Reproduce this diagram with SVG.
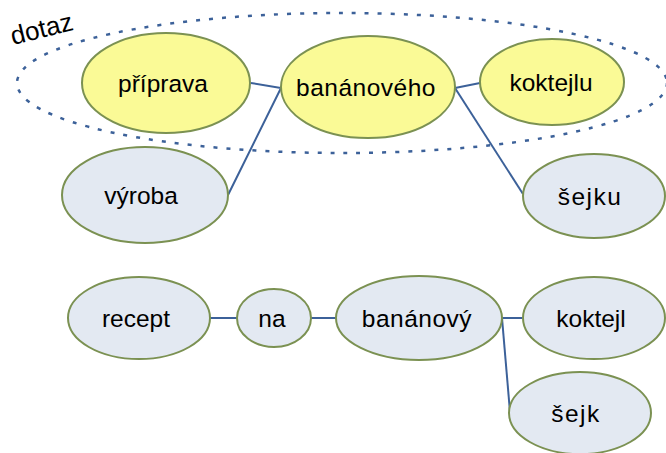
<svg xmlns="http://www.w3.org/2000/svg" width="666" height="453" viewBox="0 0 666 453">
  <style>
    .query { fill: #fafa96; stroke: #7b9152; stroke-width: 2; }
    .word { fill: #e3e9f2; stroke: #7b9152; stroke-width: 2; }
    .lbl { font-family: "Liberation Sans", Arial, sans-serif; font-size: 24.5px; fill: #000; text-anchor: middle; }
    .link { stroke: #3c6199; stroke-width: 2; fill: none; }
    .scope { fill: none; stroke: #3c6199; stroke-width: 2.5; stroke-dasharray: 4 9; }
  </style>

  <!-- query scope -->
  <g id="scope">
    <ellipse class="scope" cx="342" cy="83" rx="325" ry="70"/>
    <text class="lbl" x="13" y="45" style="text-anchor:start;font-size:26px" transform="rotate(-14 13 45)">dotaz</text>
  </g>

  <!-- connectors -->
  <g id="connectors">
    <polyline class="link" points="251,83 281,88 228,195"/>
    <line class="link" x1="455" y1="88" x2="480" y2="83"/>
    <line class="link" x1="455" y1="88" x2="523" y2="194"/>
    <line class="link" x1="209" y1="318" x2="237" y2="318"/>
    <line class="link" x1="311" y1="318" x2="336" y2="318"/>
    <line class="link" x1="502" y1="318" x2="522" y2="318"/>
    <line class="link" x1="502" y1="318" x2="510" y2="412"/>
  </g>

  <!-- upper row -->
  <g id="n-priprava">
    <ellipse class="query" cx="166" cy="83" rx="84" ry="50"/>
    <text class="lbl" x="163" y="92">příprava</text>
  </g>
  <g id="n-bananoveho">
    <ellipse class="query" cx="368" cy="87" rx="87" ry="51"/>
    <text class="lbl" x="366" y="96" letter-spacing="0.5">banánového</text>
  </g>
  <g id="n-koktejlu">
    <ellipse class="query" cx="552" cy="82" rx="72" ry="43"/>
    <text class="lbl" x="551" y="91">koktejlu</text>
  </g>
  <g id="n-vyroba">
    <ellipse class="word" cx="145" cy="195" rx="83" ry="48"/>
    <text class="lbl" x="141" y="204">výroba</text>
  </g>
  <g id="n-sejku">
    <ellipse class="word" cx="594" cy="196" rx="71" ry="42"/>
    <text class="lbl" x="590" y="205" letter-spacing="1.5">šejku</text>
  </g>

  <!-- lower row -->
  <g id="n-recept">
    <ellipse class="word" cx="139" cy="318" rx="71" ry="41"/>
    <text class="lbl" x="136" y="327">recept</text>
  </g>
  <g id="n-na">
    <ellipse class="word" cx="274" cy="318" rx="37" ry="29"/>
    <text class="lbl" x="272" y="327">na</text>
  </g>
  <g id="n-bananovy">
    <ellipse class="word" cx="419" cy="318" rx="83" ry="42"/>
    <text class="lbl" x="417" y="327" letter-spacing="0.5">banánový</text>
  </g>
  <g id="n-koktejl">
    <ellipse class="word" cx="594" cy="318" rx="71" ry="41"/>
    <text class="lbl" x="591" y="327">koktejl</text>
  </g>
  <g id="n-sejk">
    <ellipse class="word" cx="580" cy="413" rx="71" ry="41"/>
    <text class="lbl" x="576" y="422" letter-spacing="1.5">šejk</text>
  </g>
</svg>
